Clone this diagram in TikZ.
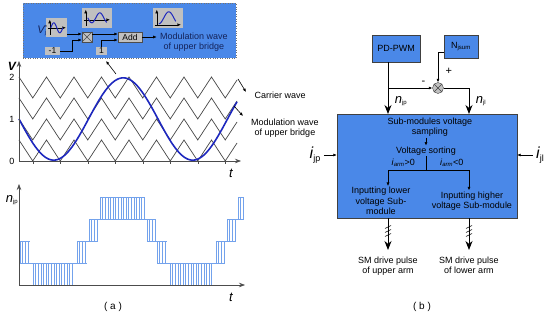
\documentclass[tikz,border=0pt]{standalone}
\usepackage{fontspec}
\setmainfont{Liberation Sans}
\usetikzlibrary{arrows.meta,calc,positioning}

\definecolor{boxblue}{RGB}{74,136,232}
\definecolor{inkblue}{RGB}{30,40,190}
\definecolor{pulseblue}{RGB}{115,162,236}
\definecolor{iconback}{RGB}{192,192,192}
\definecolor{linegray}{RGB}{70,70,70}
\definecolor{navytext}{RGB}{20,35,90}

\begin{document}
\begin{tikzpicture}[x=1pt, y=-1pt,
        block/.style={draw=black!75, fill=boxblue, align=center, inner sep=1pt},
        icon/.style={fill=iconback, inner sep=0pt},
        gbox/.style={fill=iconback, draw=black!70, inner sep=0pt,
            font=\fontsize{8.5}{9}\selectfont},
        arr/.style={-{Latex[length=3.5pt,width=3pt]}, line width=0.6pt},
        bigarr/.style={-{Stealth[length=9pt,width=7pt]}, line width=0.9pt},
        axis/.style={-{Stealth[length=6pt,width=4.5pt]}, line width=0.7pt, draw=black!70},
        carrier/.style={draw=linegray, line width=0.7pt},
        pulse/.style={draw=pulseblue, line width=0.5pt},
        sign/.style={font=\fontsize{11}{11}\selectfont},
        every node/.style={font=\fontsize{9}{10.5}\selectfont}]
    \useasboundingbox (0,0) rectangle (550,321);

    % (a) inset: modulation wave of the upper bridge
    \node[draw=black!55, dotted, fill=boxblue, minimum width=213pt,
        minimum height=55pt, inner sep=0pt] (inset) at (129.5,30.5) {};
    \node[icon, minimum width=21pt, minimum height=19pt] (iconV) at (56.5,27.5) {};
    \node[icon, minimum width=30pt, minimum height=20pt] (iconNeg) at (97,18) {};
    \node[icon, minimum width=30pt, minimum height=20pt] (iconMod) at (168,18) {};
    \begin{scope}[shift={(iconV.north west)}]
        \draw[arr, line width=0.4pt] (4,17) -- (4,2);
        \draw[arr, line width=0.4pt] (2,10) -- (20,10);
        \draw[inkblue, line width=1pt] plot[domain=5:17, samples=30] (\x,{10-5*sin(30*(\x-5))});
    \end{scope}
    \begin{scope}[shift={(iconNeg.north west)}]
        \draw[arr, line width=0.4pt] (4,18) -- (4,2);
        \draw[arr, line width=0.4pt] (2,12) -- (28,12);
        \draw[inkblue, line width=1pt] plot[domain=6:25, samples=30] (\x,{10+5*sin(22.5*(\x-6))});
    \end{scope}
    \begin{scope}[shift={(iconMod.north west)}]
        \draw[arr, line width=0.4pt] (4,18) -- (4,2);
        \draw[arr, line width=0.4pt] (2,17) -- (28,17);
        \draw[inkblue, line width=1pt] plot[domain=6:23, samples=30] (\x,{16-6*(1-cos(18*(\x-6)))});
    \end{scope}
    \node[text=navytext] (vref) at (42,31)
        {{\fontsize{11}{11}\selectfont\itshape V}\rlap{\textsuperscript{*}}\textsubscript{j}};
    \node[gbox, minimum size=10pt] (mult) at (87,37) {};
    \draw[black!70] (mult.north west) -- (mult.south east) (mult.north east) -- (mult.south west);
    \node[gbox, minimum width=24pt, minimum height=10pt] (add) at (130,37) {Add};
    \node[gbox, draw=none, minimum width=15pt, minimum height=8pt] (minus1) at (52.5,51) {-1};
    \node[gbox, draw=none, minimum width=11pt, minimum height=8pt] (one) at (101.5,51) {1};
    \node[text=navytext, align=center] (modtext) at (194,42) {Modulation wave\\of upper bridge};
    \coordinate (multin1) at ($(mult.west)+(0,-3)$);
    \coordinate (multin2) at ($(mult.west)+(0,3)$);
    \draw[arr] (iconV.east |- multin1) -- (multin1);
    \draw[arr] (minus1.east) -| ($(multin2)+(-10,0)$) -- (multin2);
    \draw[arr] (mult.east |- multin1) -- (add.west |- multin1);
    \draw[arr] (one.north) |- ($(add.west)+(0,3)$);
    \draw[arr] (add.east) -- (modtext.west |- add.east);

    % (a) carriers and modulation wave
    \foreach \k in {0,...,3}
        \draw[carrier] (19,{140-21*\k}) \foreach \m in {1,...,15} {
            -- ({19+13.75*\m},{161-21*\k-21*mod(\m+1,2)}) } -- (237,{161-21*\k-18});
    \draw[inkblue, line width=1.6pt] plot[domain=19:237, samples=120]
        (\x,{161-42*(1-0.98*sin(2.59*(\x-19)))});
    \draw[axis] (19,161) -- (19,61);
    \draw[axis] (19,161) -- (241,161);
    \foreach \i in {0,...,7}
        \draw[black!70] ({33+27.5*\i},161) -- ++(0,3);
    \node[font=\fontsize{12}{12}\selectfont\bfseries\itshape] (vlab) at (12,66) {V};
    \node (tick2) at (12,77) {2};
    \node (tick1) at (12,119) {1};
    \node (tick0) at (12,161) {0};
    \node[font=\fontsize{13}{13}\selectfont\itshape] (tup) at (231,173) {t};
    \coordinate (sinept) at (116,74);
    \coordinate (insetpt) at (106,61);
    \draw[arr] (sinept) -- (insetpt);
    \coordinate (carend) at (238,79);
    \coordinate (cartip) at (246,92);
    \node[anchor=west] (carlab) at (251,95) {Carrier wave};
    \draw[arr] (carend) -- (cartip);
    \coordinate (modend) at (234,106);
    \coordinate (modtip) at (243,116);
    \node[align=center] (modlab) at (285,128) {Modulation wave\\of upper bridge};
    \draw[arr] (modend) -- (modtip);

    % (a) inserted sub-modules of the upper arm
    \foreach \xa/\xb/\k in {20/30/1, 33/73/0, 77/87/1, 89/98/2, 100/145/3, 147/156/2,
            157/167/1, 170/212/0, 216/225/1, 227/236/2, 238/244/3} {
        \pgfmathtruncatemacro\nstripe{(\xb-\xa)/2.6}
        \draw[pulse] (\xa,{285-22*\k}) -- (\xb,{285-22*\k}) (\xa,{263-22*\k}) -- (\xb,{263-22*\k});
        \foreach \i in {0,...,\nstripe}
            \draw[pulse] ({\xa+2.6*\i},{285-22*\k}) -- ++(0,-22);
    }
    \foreach \xa/\xb/\k in {30/33/1, 73/77/1, 87/89/2, 98/100/3, 145/147/3, 156/157/2,
            167/170/1, 212/216/1, 225/227/2, 236/238/3}
        \draw[pulse] (\xa,{285-22*\k}) -- (\xb,{285-22*\k});
    \draw[axis] (19,285) -- (19,184);
    \draw[axis] (19,285) -- (245,285);
    \node (nlab) at (12,200) {{\fontsize{13}{13}\selectfont\itshape n}\textsubscript{jp}};
    \node[font=\fontsize{13}{13}\selectfont\itshape] (tlow) at (231,297) {t};
    \node[font=\fontsize{10}{12}\selectfont] (capa) at (113,307) {( a )};

    % (b) sub-module sorting
    \node[block, minimum width=48pt, minimum height=27pt] (pdpwm) at (396,48.5) {PD-PWM};
    \node[block, minimum width=34pt, minimum height=23pt] (nsum) at (461,46.5) {N\textsubscript{jsum}};
    \node[draw=black!75, fill=iconback, circle, minimum size=11pt, inner sep=0pt] (sumc) at (438,88) {};
    \draw[black!75] (sumc.north west) -- (sumc.south east) (sumc.north east) -- (sumc.south west);
    \node[block, minimum width=180pt, minimum height=104pt] (ctrl) at (427,166) {};
    \coordinate (pin) at (388,114);
    \coordinate (lin) at (469,114);
    \draw[bigarr] (pdpwm.south -| pin) -- (pin)
        node[pos=0.75, right=3pt] {{\fontsize{13}{13}\selectfont\itshape n}\textsubscript{jp}};
    \draw[arr] (pin |- sumc) -- (sumc.west) node[sign, pos=0.8, above] {-};
    \draw[arr] ($(nsum.west)+(0,5.5)$) -| (sumc.north) node[sign, pos=0.82, right=4pt] {+};
    \draw[bigarr] (sumc.east) -| (lin)
        node[pos=0.75, right=3pt] {{\fontsize{13}{13}\selectfont\itshape n}\textsubscript{jl}};
    \node[align=center, inner sep=1pt] (sampling) at (430,127) {Sub-modules voltage\\sampling};
    \node[inner sep=1pt] (sorting) at (426,151) {Voltage sorting};
    \draw[arr] (sampling.south -| sorting) -- (sorting.north);
    \coordinate (split) at (426,170);
    \node[align=center, inner sep=1pt] (lowsm) at (381,201) {Inputting lower\\voltage Sub-\\module};
    \node[align=center, inner sep=1pt] (highsm) at (472,201) {Inputting higher\\voltage Sub-module};
    \draw (sorting.south) -- (split);
    \draw[arr] (split) -| (lowsm.north -| pin)
        node[pos=0.3, above] {\textit{i}\textsubscript{\textit{arm}}>0};
    \draw[arr] (split) -| (highsm.north -| lin)
        node[pos=0.3, above] {\textit{i}\textsubscript{\textit{arm}}<0};
    \node (ijp) at (315,155) {{\fontsize{16}{16}\selectfont\itshape i}\raisebox{-2.5pt}{jp}};
    \node (ijl) at (540,155) {{\fontsize{16}{16}\selectfont\itshape i}\raisebox{-2.5pt}{jl}};
    \draw[arr] (ijp.east) -- (ctrl.west |- ijp.east);
    \draw[arr] (ijl.west) -- (ctrl.east |- ijl.west);
    \coordinate (outl) at (388,250);
    \coordinate (outr) at (469,250);
    \draw[bigarr] (ctrl.south -| outl) -- (outl);
    \draw[bigarr] (ctrl.south -| outr) -- (outr);
    \foreach \xx in {388,469}
        \foreach \yy in {227,231,235}
            \draw[line width=0.5pt] ({\xx-3},{\yy+1.5}) -- ({\xx+3},{\yy-1.5});
    \node[align=center, below=3pt of outl] (pulseup) {SM drive pulse\\of upper arm};
    \node[align=center, below=3pt of outr] (pulselow) {SM drive pulse\\of lower arm};
    \node[font=\fontsize{10}{12}\selectfont] (capb) at (422,307) {( b )};
\end{tikzpicture}
\end{document}
